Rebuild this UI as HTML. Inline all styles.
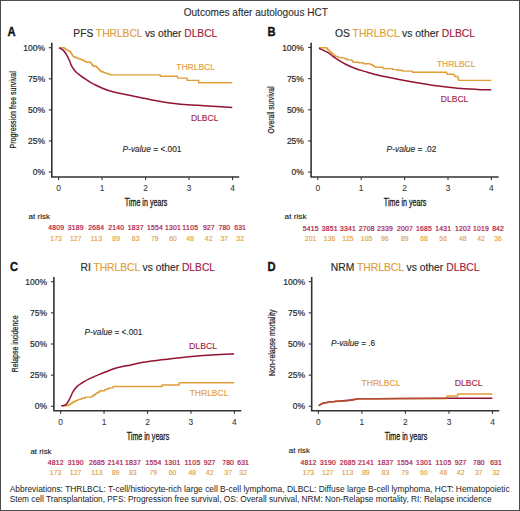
<!DOCTYPE html><html><head><meta charset="utf-8"><style>html,body{margin:0;padding:0;background:#fff;}svg{display:block;}text{font-family:"Liberation Sans", sans-serif;}</style></head><body>
<svg width="520" height="511" viewBox="0 0 520 511">
<rect x="0" y="0" width="520" height="511" fill="#fff"/>
<text x="183.7" y="16.2" font-size="10.1" fill="#2b2b2b" text-anchor="start" font-weight="normal" font-style="normal" textLength="144.2" lengthAdjust="spacingAndGlyphs" stroke="#2b2b2b" stroke-width="0.1">Outcomes after autologous HCT</text>
<path d="M51.8,42.7 L51.8,177 L239.2,177" fill="none" stroke="#333333" stroke-width="1.6"/>
<line x1="48.8" y1="172.00" x2="51.8" y2="172.00" stroke="#333333" stroke-width="1.1"/>
<line x1="48.8" y1="140.93" x2="51.8" y2="140.93" stroke="#333333" stroke-width="1.1"/>
<line x1="48.8" y1="109.85" x2="51.8" y2="109.85" stroke="#333333" stroke-width="1.1"/>
<line x1="48.8" y1="78.78" x2="51.8" y2="78.78" stroke="#333333" stroke-width="1.1"/>
<line x1="48.8" y1="47.70" x2="51.8" y2="47.70" stroke="#333333" stroke-width="1.1"/>
<line x1="58.60" y1="177" x2="58.60" y2="180" stroke="#333333" stroke-width="1.1"/>
<line x1="102.08" y1="177" x2="102.08" y2="180" stroke="#333333" stroke-width="1.1"/>
<line x1="145.55" y1="177" x2="145.55" y2="180" stroke="#333333" stroke-width="1.1"/>
<line x1="189.03" y1="177" x2="189.03" y2="180" stroke="#333333" stroke-width="1.1"/>
<line x1="232.50" y1="177" x2="232.50" y2="180" stroke="#333333" stroke-width="1.1"/>
<text x="7.4" y="36.199999999999996" font-size="13.1" fill="#111" text-anchor="start" font-weight="bold" font-style="normal" textLength="8.1" lengthAdjust="spacingAndGlyphs" stroke="#111" stroke-width="0.35">A</text>
<text x="73.3" y="36.5" font-size="10.2" fill="#2b2b2b" stroke="#2b2b2b" stroke-width="0.15" textLength="144" lengthAdjust="spacingAndGlyphs">PFS <tspan fill="#E09D38" stroke="#E09D38">THRLBCL</tspan> vs other <tspan fill="#A01C42" stroke="#A01C42">DLBCL</tspan></text>
<text x="45.1" y="175.0" font-size="8.5" fill="#2a2a2a" text-anchor="end" font-weight="normal" font-style="normal" stroke="#2a2a2a" stroke-width="0.2">0%</text>
<text x="45.1" y="143.93" font-size="8.5" fill="#2a2a2a" text-anchor="end" font-weight="normal" font-style="normal" stroke="#2a2a2a" stroke-width="0.2">25%</text>
<text x="45.1" y="112.85" font-size="8.5" fill="#2a2a2a" text-anchor="end" font-weight="normal" font-style="normal" stroke="#2a2a2a" stroke-width="0.2">50%</text>
<text x="45.1" y="81.78" font-size="8.5" fill="#2a2a2a" text-anchor="end" font-weight="normal" font-style="normal" stroke="#2a2a2a" stroke-width="0.2">75%</text>
<text x="45.1" y="50.7" font-size="8.5" fill="#2a2a2a" text-anchor="end" font-weight="normal" font-style="normal" stroke="#2a2a2a" stroke-width="0.2">100%</text>
<text x="58.6" y="190.8" font-size="8.4" fill="#333" text-anchor="middle" font-weight="normal" font-style="normal" stroke="#333" stroke-width="0.05">0</text>
<text x="102.08" y="190.8" font-size="8.4" fill="#333" text-anchor="middle" font-weight="normal" font-style="normal" stroke="#333" stroke-width="0.05">1</text>
<text x="145.55" y="190.8" font-size="8.4" fill="#333" text-anchor="middle" font-weight="normal" font-style="normal" stroke="#333" stroke-width="0.05">2</text>
<text x="189.03" y="190.8" font-size="8.4" fill="#333" text-anchor="middle" font-weight="normal" font-style="normal" stroke="#333" stroke-width="0.05">3</text>
<text x="232.5" y="190.8" font-size="8.4" fill="#333" text-anchor="middle" font-weight="normal" font-style="normal" stroke="#333" stroke-width="0.05">4</text>
<text x="124.75" y="206.1" font-size="10.2" fill="#1a1a1a" text-anchor="start" font-weight="normal" font-style="normal" textLength="42.6" lengthAdjust="spacingAndGlyphs" stroke="#1a1a1a" stroke-width="0.3">Time in years</text>
<text transform="translate(15.700000000000001,148.5) rotate(-90)" x="0" y="0" font-size="9.8" fill="#1a1a1a" stroke="#1a1a1a" stroke-width="0.22" textLength="77.3" lengthAdjust="spacingAndGlyphs">Progression free survival</text>
<path d="M311.1,42.7 L311.1,177 L498.6,177" fill="none" stroke="#333333" stroke-width="1.6"/>
<line x1="308.1" y1="172.10" x2="311.1" y2="172.10" stroke="#333333" stroke-width="1.1"/>
<line x1="308.1" y1="140.95" x2="311.1" y2="140.95" stroke="#333333" stroke-width="1.1"/>
<line x1="308.1" y1="109.80" x2="311.1" y2="109.80" stroke="#333333" stroke-width="1.1"/>
<line x1="308.1" y1="78.65" x2="311.1" y2="78.65" stroke="#333333" stroke-width="1.1"/>
<line x1="308.1" y1="47.50" x2="311.1" y2="47.50" stroke="#333333" stroke-width="1.1"/>
<line x1="317.80" y1="177" x2="317.80" y2="180" stroke="#333333" stroke-width="1.1"/>
<line x1="361.20" y1="177" x2="361.20" y2="180" stroke="#333333" stroke-width="1.1"/>
<line x1="404.60" y1="177" x2="404.60" y2="180" stroke="#333333" stroke-width="1.1"/>
<line x1="448.00" y1="177" x2="448.00" y2="180" stroke="#333333" stroke-width="1.1"/>
<line x1="491.40" y1="177" x2="491.40" y2="180" stroke="#333333" stroke-width="1.1"/>
<text x="267.4" y="36.199999999999996" font-size="13.1" fill="#111" text-anchor="start" font-weight="bold" font-style="normal" textLength="8.1" lengthAdjust="spacingAndGlyphs" stroke="#111" stroke-width="0.35">B</text>
<text x="335" y="36.5" font-size="10.2" fill="#2b2b2b" stroke="#2b2b2b" stroke-width="0.15" textLength="140" lengthAdjust="spacingAndGlyphs">OS <tspan fill="#E09D38" stroke="#E09D38">THRLBCL</tspan> vs other <tspan fill="#A01C42" stroke="#A01C42">DLBCL</tspan></text>
<text x="303.9" y="175.1" font-size="8.5" fill="#2a2a2a" text-anchor="end" font-weight="normal" font-style="normal" stroke="#2a2a2a" stroke-width="0.2">0%</text>
<text x="303.9" y="143.95" font-size="8.5" fill="#2a2a2a" text-anchor="end" font-weight="normal" font-style="normal" stroke="#2a2a2a" stroke-width="0.2">25%</text>
<text x="303.9" y="112.8" font-size="8.5" fill="#2a2a2a" text-anchor="end" font-weight="normal" font-style="normal" stroke="#2a2a2a" stroke-width="0.2">50%</text>
<text x="303.9" y="81.65" font-size="8.5" fill="#2a2a2a" text-anchor="end" font-weight="normal" font-style="normal" stroke="#2a2a2a" stroke-width="0.2">75%</text>
<text x="303.9" y="50.5" font-size="8.5" fill="#2a2a2a" text-anchor="end" font-weight="normal" font-style="normal" stroke="#2a2a2a" stroke-width="0.2">100%</text>
<text x="317.8" y="190.8" font-size="8.4" fill="#333" text-anchor="middle" font-weight="normal" font-style="normal" stroke="#333" stroke-width="0.05">0</text>
<text x="361.2" y="190.8" font-size="8.4" fill="#333" text-anchor="middle" font-weight="normal" font-style="normal" stroke="#333" stroke-width="0.05">1</text>
<text x="404.6" y="190.8" font-size="8.4" fill="#333" text-anchor="middle" font-weight="normal" font-style="normal" stroke="#333" stroke-width="0.05">2</text>
<text x="448.0" y="190.8" font-size="8.4" fill="#333" text-anchor="middle" font-weight="normal" font-style="normal" stroke="#333" stroke-width="0.05">3</text>
<text x="491.4" y="190.8" font-size="8.4" fill="#333" text-anchor="middle" font-weight="normal" font-style="normal" stroke="#333" stroke-width="0.05">4</text>
<text x="383.8" y="206.1" font-size="10.2" fill="#1a1a1a" text-anchor="start" font-weight="normal" font-style="normal" textLength="42.6" lengthAdjust="spacingAndGlyphs" stroke="#1a1a1a" stroke-width="0.3">Time in years</text>
<text transform="translate(274.29999999999995,133.4) rotate(-90)" x="0" y="0" font-size="9.8" fill="#1a1a1a" stroke="#1a1a1a" stroke-width="0.22" textLength="47.0" lengthAdjust="spacingAndGlyphs">Overall survival</text>
<path d="M53.9,277 L53.9,410.8 L241.3,410.8" fill="none" stroke="#333333" stroke-width="1.6"/>
<line x1="50.9" y1="406.30" x2="53.9" y2="406.30" stroke="#333333" stroke-width="1.1"/>
<line x1="50.9" y1="375.15" x2="53.9" y2="375.15" stroke="#333333" stroke-width="1.1"/>
<line x1="50.9" y1="344.00" x2="53.9" y2="344.00" stroke="#333333" stroke-width="1.1"/>
<line x1="50.9" y1="312.85" x2="53.9" y2="312.85" stroke="#333333" stroke-width="1.1"/>
<line x1="50.9" y1="281.70" x2="53.9" y2="281.70" stroke="#333333" stroke-width="1.1"/>
<line x1="60.60" y1="410.8" x2="60.60" y2="413.8" stroke="#333333" stroke-width="1.1"/>
<line x1="104.05" y1="410.8" x2="104.05" y2="413.8" stroke="#333333" stroke-width="1.1"/>
<line x1="147.50" y1="410.8" x2="147.50" y2="413.8" stroke="#333333" stroke-width="1.1"/>
<line x1="190.95" y1="410.8" x2="190.95" y2="413.8" stroke="#333333" stroke-width="1.1"/>
<line x1="234.40" y1="410.8" x2="234.40" y2="413.8" stroke="#333333" stroke-width="1.1"/>
<text x="10.1" y="270.9" font-size="13.1" fill="#111" text-anchor="start" font-weight="bold" font-style="normal" textLength="8.1" lengthAdjust="spacingAndGlyphs" stroke="#111" stroke-width="0.35">C</text>
<text x="80.5" y="270.5" font-size="10.2" fill="#2b2b2b" stroke="#2b2b2b" stroke-width="0.15" textLength="134.5" lengthAdjust="spacingAndGlyphs">RI <tspan fill="#E09D38" stroke="#E09D38">THRLBCL</tspan> vs other <tspan fill="#A01C42" stroke="#A01C42">DLBCL</tspan></text>
<text x="47.1" y="409.3" font-size="8.5" fill="#2a2a2a" text-anchor="end" font-weight="normal" font-style="normal" stroke="#2a2a2a" stroke-width="0.2">0%</text>
<text x="47.1" y="378.15" font-size="8.5" fill="#2a2a2a" text-anchor="end" font-weight="normal" font-style="normal" stroke="#2a2a2a" stroke-width="0.2">25%</text>
<text x="47.1" y="347.0" font-size="8.5" fill="#2a2a2a" text-anchor="end" font-weight="normal" font-style="normal" stroke="#2a2a2a" stroke-width="0.2">50%</text>
<text x="47.1" y="315.85" font-size="8.5" fill="#2a2a2a" text-anchor="end" font-weight="normal" font-style="normal" stroke="#2a2a2a" stroke-width="0.2">75%</text>
<text x="47.1" y="284.7" font-size="8.5" fill="#2a2a2a" text-anchor="end" font-weight="normal" font-style="normal" stroke="#2a2a2a" stroke-width="0.2">100%</text>
<text x="60.6" y="424.6" font-size="8.4" fill="#333" text-anchor="middle" font-weight="normal" font-style="normal" stroke="#333" stroke-width="0.05">0</text>
<text x="104.05" y="424.6" font-size="8.4" fill="#333" text-anchor="middle" font-weight="normal" font-style="normal" stroke="#333" stroke-width="0.05">1</text>
<text x="147.5" y="424.6" font-size="8.4" fill="#333" text-anchor="middle" font-weight="normal" font-style="normal" stroke="#333" stroke-width="0.05">2</text>
<text x="190.95" y="424.6" font-size="8.4" fill="#333" text-anchor="middle" font-weight="normal" font-style="normal" stroke="#333" stroke-width="0.05">3</text>
<text x="234.4" y="424.6" font-size="8.4" fill="#333" text-anchor="middle" font-weight="normal" font-style="normal" stroke="#333" stroke-width="0.05">4</text>
<text x="126.7" y="439.90000000000003" font-size="10.2" fill="#1a1a1a" text-anchor="start" font-weight="normal" font-style="normal" textLength="42.6" lengthAdjust="spacingAndGlyphs" stroke="#1a1a1a" stroke-width="0.3">Time in years</text>
<text transform="translate(17.599999999999998,372.2) rotate(-90)" x="0" y="0" font-size="9.8" fill="#1a1a1a" stroke="#1a1a1a" stroke-width="0.22" textLength="56.8" lengthAdjust="spacingAndGlyphs">Relapse incidence</text>
<path d="M311.7,277 L311.7,410.8 L499.2,410.8" fill="none" stroke="#333333" stroke-width="1.6"/>
<line x1="308.7" y1="406.30" x2="311.7" y2="406.30" stroke="#333333" stroke-width="1.1"/>
<line x1="308.7" y1="375.15" x2="311.7" y2="375.15" stroke="#333333" stroke-width="1.1"/>
<line x1="308.7" y1="344.00" x2="311.7" y2="344.00" stroke="#333333" stroke-width="1.1"/>
<line x1="308.7" y1="312.85" x2="311.7" y2="312.85" stroke="#333333" stroke-width="1.1"/>
<line x1="308.7" y1="281.70" x2="311.7" y2="281.70" stroke="#333333" stroke-width="1.1"/>
<line x1="318.40" y1="410.8" x2="318.40" y2="413.8" stroke="#333333" stroke-width="1.1"/>
<line x1="361.92" y1="410.8" x2="361.92" y2="413.8" stroke="#333333" stroke-width="1.1"/>
<line x1="405.45" y1="410.8" x2="405.45" y2="413.8" stroke="#333333" stroke-width="1.1"/>
<line x1="448.98" y1="410.8" x2="448.98" y2="413.8" stroke="#333333" stroke-width="1.1"/>
<line x1="492.50" y1="410.8" x2="492.50" y2="413.8" stroke="#333333" stroke-width="1.1"/>
<text x="267.4" y="270.9" font-size="13.1" fill="#111" text-anchor="start" font-weight="bold" font-style="normal" textLength="8.1" lengthAdjust="spacingAndGlyphs" stroke="#111" stroke-width="0.35">D</text>
<text x="330.75" y="270.5" font-size="10.2" fill="#2b2b2b" stroke="#2b2b2b" stroke-width="0.15" textLength="148.75" lengthAdjust="spacingAndGlyphs">NRM <tspan fill="#E09D38" stroke="#E09D38">THRLBCL</tspan> vs other <tspan fill="#A01C42" stroke="#A01C42">DLBCL</tspan></text>
<text x="305.1" y="409.3" font-size="8.5" fill="#2a2a2a" text-anchor="end" font-weight="normal" font-style="normal" stroke="#2a2a2a" stroke-width="0.2">0%</text>
<text x="305.1" y="378.15" font-size="8.5" fill="#2a2a2a" text-anchor="end" font-weight="normal" font-style="normal" stroke="#2a2a2a" stroke-width="0.2">25%</text>
<text x="305.1" y="347.0" font-size="8.5" fill="#2a2a2a" text-anchor="end" font-weight="normal" font-style="normal" stroke="#2a2a2a" stroke-width="0.2">50%</text>
<text x="305.1" y="315.85" font-size="8.5" fill="#2a2a2a" text-anchor="end" font-weight="normal" font-style="normal" stroke="#2a2a2a" stroke-width="0.2">75%</text>
<text x="305.1" y="284.7" font-size="8.5" fill="#2a2a2a" text-anchor="end" font-weight="normal" font-style="normal" stroke="#2a2a2a" stroke-width="0.2">100%</text>
<text x="318.4" y="424.6" font-size="8.4" fill="#333" text-anchor="middle" font-weight="normal" font-style="normal" stroke="#333" stroke-width="0.05">0</text>
<text x="361.92" y="424.6" font-size="8.4" fill="#333" text-anchor="middle" font-weight="normal" font-style="normal" stroke="#333" stroke-width="0.05">1</text>
<text x="405.45" y="424.6" font-size="8.4" fill="#333" text-anchor="middle" font-weight="normal" font-style="normal" stroke="#333" stroke-width="0.05">2</text>
<text x="448.98" y="424.6" font-size="8.4" fill="#333" text-anchor="middle" font-weight="normal" font-style="normal" stroke="#333" stroke-width="0.05">3</text>
<text x="492.5" y="424.6" font-size="8.4" fill="#333" text-anchor="middle" font-weight="normal" font-style="normal" stroke="#333" stroke-width="0.05">4</text>
<text x="384.65" y="439.90000000000003" font-size="10.2" fill="#1a1a1a" text-anchor="start" font-weight="normal" font-style="normal" textLength="42.6" lengthAdjust="spacingAndGlyphs" stroke="#1a1a1a" stroke-width="0.3">Time in years</text>
<text transform="translate(274.9,376.1) rotate(-90)" x="0" y="0" font-size="9.8" fill="#1a1a1a" stroke="#1a1a1a" stroke-width="0.22" textLength="66.5" lengthAdjust="spacingAndGlyphs">Non-relapse mortality</text>
<text x="28.5" y="218.7" font-size="7.6" fill="#222" text-anchor="start" font-weight="normal" font-style="normal" textLength="21.5" lengthAdjust="spacingAndGlyphs" stroke="#222" stroke-width="0.12">at risk</text>
<text x="48.2" y="230.3" font-size="6.8" fill="#B0234C" text-anchor="start" font-weight="normal" font-style="normal" textLength="15.8" lengthAdjust="spacing" stroke="#B0234C" stroke-width="0.22">4809</text>
<text x="50.35" y="241.3" font-size="6.8" fill="#E3A245" text-anchor="start" font-weight="normal" font-style="normal" textLength="11.5" lengthAdjust="spacing" stroke="#E3A245" stroke-width="0.15">173</text>
<text x="67.8" y="230.3" font-size="6.8" fill="#B0234C" text-anchor="start" font-weight="normal" font-style="normal" textLength="15.8" lengthAdjust="spacing" stroke="#B0234C" stroke-width="0.22">3189</text>
<text x="69.95" y="241.3" font-size="6.8" fill="#E3A245" text-anchor="start" font-weight="normal" font-style="normal" textLength="11.5" lengthAdjust="spacing" stroke="#E3A245" stroke-width="0.15">127</text>
<text x="88.3" y="230.3" font-size="6.8" fill="#B0234C" text-anchor="start" font-weight="normal" font-style="normal" textLength="15.8" lengthAdjust="spacing" stroke="#B0234C" stroke-width="0.22">2684</text>
<text x="90.45" y="241.3" font-size="6.8" fill="#E3A245" text-anchor="start" font-weight="normal" font-style="normal" textLength="11.5" lengthAdjust="spacing" stroke="#E3A245" stroke-width="0.15">113</text>
<text x="108.3" y="230.3" font-size="6.8" fill="#B0234C" text-anchor="start" font-weight="normal" font-style="normal" textLength="15.8" lengthAdjust="spacing" stroke="#B0234C" stroke-width="0.22">2140</text>
<text x="112.35" y="241.3" font-size="6.8" fill="#E3A245" text-anchor="start" font-weight="normal" font-style="normal" textLength="7.7" lengthAdjust="spacing" stroke="#E3A245" stroke-width="0.15">89</text>
<text x="127.7" y="230.3" font-size="6.8" fill="#B0234C" text-anchor="start" font-weight="normal" font-style="normal" textLength="15.8" lengthAdjust="spacing" stroke="#B0234C" stroke-width="0.22">1837</text>
<text x="131.75" y="241.3" font-size="6.8" fill="#E3A245" text-anchor="start" font-weight="normal" font-style="normal" textLength="7.7" lengthAdjust="spacing" stroke="#E3A245" stroke-width="0.15">83</text>
<text x="146.9" y="230.3" font-size="6.8" fill="#B0234C" text-anchor="start" font-weight="normal" font-style="normal" textLength="15.8" lengthAdjust="spacing" stroke="#B0234C" stroke-width="0.22">1554</text>
<text x="150.95" y="241.3" font-size="6.8" fill="#E3A245" text-anchor="start" font-weight="normal" font-style="normal" textLength="7.7" lengthAdjust="spacing" stroke="#E3A245" stroke-width="0.15">79</text>
<text x="165.1" y="230.3" font-size="6.8" fill="#B0234C" text-anchor="start" font-weight="normal" font-style="normal" textLength="15.8" lengthAdjust="spacing" stroke="#B0234C" stroke-width="0.22">1301</text>
<text x="169.15" y="241.3" font-size="6.8" fill="#E3A245" text-anchor="start" font-weight="normal" font-style="normal" textLength="7.7" lengthAdjust="spacing" stroke="#E3A245" stroke-width="0.15">60</text>
<text x="182.3" y="230.3" font-size="6.8" fill="#B0234C" text-anchor="start" font-weight="normal" font-style="normal" textLength="15.8" lengthAdjust="spacing" stroke="#B0234C" stroke-width="0.22">1105</text>
<text x="186.35" y="241.3" font-size="6.8" fill="#E3A245" text-anchor="start" font-weight="normal" font-style="normal" textLength="7.7" lengthAdjust="spacing" stroke="#E3A245" stroke-width="0.15">48</text>
<text x="202.95" y="230.3" font-size="6.8" fill="#B0234C" text-anchor="start" font-weight="normal" font-style="normal" textLength="11.5" lengthAdjust="spacing" stroke="#B0234C" stroke-width="0.22">927</text>
<text x="204.85" y="241.3" font-size="6.8" fill="#E3A245" text-anchor="start" font-weight="normal" font-style="normal" textLength="7.7" lengthAdjust="spacing" stroke="#E3A245" stroke-width="0.15">42</text>
<text x="218.55" y="230.3" font-size="6.8" fill="#B0234C" text-anchor="start" font-weight="normal" font-style="normal" textLength="11.5" lengthAdjust="spacing" stroke="#B0234C" stroke-width="0.22">780</text>
<text x="220.45" y="241.3" font-size="6.8" fill="#E3A245" text-anchor="start" font-weight="normal" font-style="normal" textLength="7.7" lengthAdjust="spacing" stroke="#E3A245" stroke-width="0.15">37</text>
<text x="234.35" y="230.3" font-size="6.8" fill="#B0234C" text-anchor="start" font-weight="normal" font-style="normal" textLength="11.5" lengthAdjust="spacing" stroke="#B0234C" stroke-width="0.22">631</text>
<text x="236.25" y="241.3" font-size="6.8" fill="#E3A245" text-anchor="start" font-weight="normal" font-style="normal" textLength="7.7" lengthAdjust="spacing" stroke="#E3A245" stroke-width="0.15">32</text>
<text x="284.6" y="218.7" font-size="7.6" fill="#222" text-anchor="start" font-weight="normal" font-style="normal" textLength="22" lengthAdjust="spacingAndGlyphs" stroke="#222" stroke-width="0.12">at risk</text>
<text x="302.7" y="230.5" font-size="6.8" fill="#B0234C" text-anchor="start" font-weight="normal" font-style="normal" textLength="15.8" lengthAdjust="spacing" stroke="#B0234C" stroke-width="0.22">5415</text>
<text x="304.85" y="241.3" font-size="6.8" fill="#E3A245" text-anchor="start" font-weight="normal" font-style="normal" textLength="11.5" lengthAdjust="spacing" stroke="#E3A245" stroke-width="0.15">201</text>
<text x="321.7" y="230.5" font-size="6.8" fill="#B0234C" text-anchor="start" font-weight="normal" font-style="normal" textLength="15.8" lengthAdjust="spacing" stroke="#B0234C" stroke-width="0.22">3851</text>
<text x="323.85" y="241.3" font-size="6.8" fill="#E3A245" text-anchor="start" font-weight="normal" font-style="normal" textLength="11.5" lengthAdjust="spacing" stroke="#E3A245" stroke-width="0.15">136</text>
<text x="340.0" y="230.5" font-size="6.8" fill="#B0234C" text-anchor="start" font-weight="normal" font-style="normal" textLength="15.8" lengthAdjust="spacing" stroke="#B0234C" stroke-width="0.22">3341</text>
<text x="342.15" y="241.3" font-size="6.8" fill="#E3A245" text-anchor="start" font-weight="normal" font-style="normal" textLength="11.5" lengthAdjust="spacing" stroke="#E3A245" stroke-width="0.15">125</text>
<text x="358.7" y="230.5" font-size="6.8" fill="#B0234C" text-anchor="start" font-weight="normal" font-style="normal" textLength="15.8" lengthAdjust="spacing" stroke="#B0234C" stroke-width="0.22">2708</text>
<text x="360.85" y="241.3" font-size="6.8" fill="#E3A245" text-anchor="start" font-weight="normal" font-style="normal" textLength="11.5" lengthAdjust="spacing" stroke="#E3A245" stroke-width="0.15">105</text>
<text x="376.9" y="230.5" font-size="6.8" fill="#B0234C" text-anchor="start" font-weight="normal" font-style="normal" textLength="15.8" lengthAdjust="spacing" stroke="#B0234C" stroke-width="0.22">2339</text>
<text x="380.95" y="241.3" font-size="6.8" fill="#E3A245" text-anchor="start" font-weight="normal" font-style="normal" textLength="7.7" lengthAdjust="spacing" stroke="#E3A245" stroke-width="0.15">96</text>
<text x="396.9" y="230.5" font-size="6.8" fill="#B0234C" text-anchor="start" font-weight="normal" font-style="normal" textLength="15.8" lengthAdjust="spacing" stroke="#B0234C" stroke-width="0.22">2007</text>
<text x="400.95" y="241.3" font-size="6.8" fill="#E3A245" text-anchor="start" font-weight="normal" font-style="normal" textLength="7.7" lengthAdjust="spacing" stroke="#E3A245" stroke-width="0.15">89</text>
<text x="416.1" y="230.5" font-size="6.8" fill="#B0234C" text-anchor="start" font-weight="normal" font-style="normal" textLength="15.8" lengthAdjust="spacing" stroke="#B0234C" stroke-width="0.22">1685</text>
<text x="420.15" y="241.3" font-size="6.8" fill="#E3A245" text-anchor="start" font-weight="normal" font-style="normal" textLength="7.7" lengthAdjust="spacing" stroke="#E3A245" stroke-width="0.15">68</text>
<text x="435.2" y="230.5" font-size="6.8" fill="#B0234C" text-anchor="start" font-weight="normal" font-style="normal" textLength="15.8" lengthAdjust="spacing" stroke="#B0234C" stroke-width="0.22">1431</text>
<text x="439.25" y="241.3" font-size="6.8" fill="#E3A245" text-anchor="start" font-weight="normal" font-style="normal" textLength="7.7" lengthAdjust="spacing" stroke="#E3A245" stroke-width="0.15">56</text>
<text x="454.9" y="230.5" font-size="6.8" fill="#B0234C" text-anchor="start" font-weight="normal" font-style="normal" textLength="15.8" lengthAdjust="spacing" stroke="#B0234C" stroke-width="0.22">1202</text>
<text x="458.95" y="241.3" font-size="6.8" fill="#E3A245" text-anchor="start" font-weight="normal" font-style="normal" textLength="7.7" lengthAdjust="spacing" stroke="#E3A245" stroke-width="0.15">48</text>
<text x="473.1" y="230.5" font-size="6.8" fill="#B0234C" text-anchor="start" font-weight="normal" font-style="normal" textLength="15.8" lengthAdjust="spacing" stroke="#B0234C" stroke-width="0.22">1019</text>
<text x="477.15" y="241.3" font-size="6.8" fill="#E3A245" text-anchor="start" font-weight="normal" font-style="normal" textLength="7.7" lengthAdjust="spacing" stroke="#E3A245" stroke-width="0.15">42</text>
<text x="492.25" y="230.5" font-size="6.8" fill="#B0234C" text-anchor="start" font-weight="normal" font-style="normal" textLength="11.5" lengthAdjust="spacing" stroke="#B0234C" stroke-width="0.22">842</text>
<text x="494.15" y="241.3" font-size="6.8" fill="#E3A245" text-anchor="start" font-weight="normal" font-style="normal" textLength="7.7" lengthAdjust="spacing" stroke="#E3A245" stroke-width="0.15">36</text>
<text x="30.4" y="453.6" font-size="7.6" fill="#222" text-anchor="start" font-weight="normal" font-style="normal" textLength="21.2" lengthAdjust="spacingAndGlyphs" stroke="#222" stroke-width="0.12">at risk</text>
<text x="47.7" y="465.0" font-size="6.8" fill="#B0234C" text-anchor="start" font-weight="normal" font-style="normal" textLength="15.8" lengthAdjust="spacing" stroke="#B0234C" stroke-width="0.22">4812</text>
<text x="49.85" y="475.2" font-size="6.8" fill="#E3A245" text-anchor="start" font-weight="normal" font-style="normal" textLength="11.5" lengthAdjust="spacing" stroke="#E3A245" stroke-width="0.15">173</text>
<text x="67.7" y="465.0" font-size="6.8" fill="#B0234C" text-anchor="start" font-weight="normal" font-style="normal" textLength="15.8" lengthAdjust="spacing" stroke="#B0234C" stroke-width="0.22">3190</text>
<text x="69.85" y="475.2" font-size="6.8" fill="#E3A245" text-anchor="start" font-weight="normal" font-style="normal" textLength="11.5" lengthAdjust="spacing" stroke="#E3A245" stroke-width="0.15">127</text>
<text x="89.0" y="465.0" font-size="6.8" fill="#B0234C" text-anchor="start" font-weight="normal" font-style="normal" textLength="15.8" lengthAdjust="spacing" stroke="#B0234C" stroke-width="0.22">2685</text>
<text x="91.15" y="475.2" font-size="6.8" fill="#E3A245" text-anchor="start" font-weight="normal" font-style="normal" textLength="11.5" lengthAdjust="spacing" stroke="#E3A245" stroke-width="0.15">113</text>
<text x="107.6" y="465.0" font-size="6.8" fill="#B0234C" text-anchor="start" font-weight="normal" font-style="normal" textLength="15.8" lengthAdjust="spacing" stroke="#B0234C" stroke-width="0.22">2141</text>
<text x="111.65" y="475.2" font-size="6.8" fill="#E3A245" text-anchor="start" font-weight="normal" font-style="normal" textLength="7.7" lengthAdjust="spacing" stroke="#E3A245" stroke-width="0.15">89</text>
<text x="124.9" y="465.0" font-size="6.8" fill="#B0234C" text-anchor="start" font-weight="normal" font-style="normal" textLength="15.8" lengthAdjust="spacing" stroke="#B0234C" stroke-width="0.22">1837</text>
<text x="128.95" y="475.2" font-size="6.8" fill="#E3A245" text-anchor="start" font-weight="normal" font-style="normal" textLength="7.7" lengthAdjust="spacing" stroke="#E3A245" stroke-width="0.15">83</text>
<text x="145.4" y="465.0" font-size="6.8" fill="#B0234C" text-anchor="start" font-weight="normal" font-style="normal" textLength="15.8" lengthAdjust="spacing" stroke="#B0234C" stroke-width="0.22">1554</text>
<text x="149.45" y="475.2" font-size="6.8" fill="#E3A245" text-anchor="start" font-weight="normal" font-style="normal" textLength="7.7" lengthAdjust="spacing" stroke="#E3A245" stroke-width="0.15">79</text>
<text x="164.6" y="465.0" font-size="6.8" fill="#B0234C" text-anchor="start" font-weight="normal" font-style="normal" textLength="15.8" lengthAdjust="spacing" stroke="#B0234C" stroke-width="0.22">1301</text>
<text x="168.65" y="475.2" font-size="6.8" fill="#E3A245" text-anchor="start" font-weight="normal" font-style="normal" textLength="7.7" lengthAdjust="spacing" stroke="#E3A245" stroke-width="0.15">60</text>
<text x="184.4" y="465.0" font-size="6.8" fill="#B0234C" text-anchor="start" font-weight="normal" font-style="normal" textLength="15.8" lengthAdjust="spacing" stroke="#B0234C" stroke-width="0.22">1105</text>
<text x="188.45" y="475.2" font-size="6.8" fill="#E3A245" text-anchor="start" font-weight="normal" font-style="normal" textLength="7.7" lengthAdjust="spacing" stroke="#E3A245" stroke-width="0.15">48</text>
<text x="203.85" y="465.0" font-size="6.8" fill="#B0234C" text-anchor="start" font-weight="normal" font-style="normal" textLength="11.5" lengthAdjust="spacing" stroke="#B0234C" stroke-width="0.22">927</text>
<text x="205.75" y="475.2" font-size="6.8" fill="#E3A245" text-anchor="start" font-weight="normal" font-style="normal" textLength="7.7" lengthAdjust="spacing" stroke="#E3A245" stroke-width="0.15">42</text>
<text x="222.35" y="465.0" font-size="6.8" fill="#B0234C" text-anchor="start" font-weight="normal" font-style="normal" textLength="11.5" lengthAdjust="spacing" stroke="#B0234C" stroke-width="0.22">780</text>
<text x="224.25" y="475.2" font-size="6.8" fill="#E3A245" text-anchor="start" font-weight="normal" font-style="normal" textLength="7.7" lengthAdjust="spacing" stroke="#E3A245" stroke-width="0.15">37</text>
<text x="237.35" y="465.0" font-size="6.8" fill="#B0234C" text-anchor="start" font-weight="normal" font-style="normal" textLength="11.5" lengthAdjust="spacing" stroke="#B0234C" stroke-width="0.22">631</text>
<text x="239.25" y="475.2" font-size="6.8" fill="#E3A245" text-anchor="start" font-weight="normal" font-style="normal" textLength="7.7" lengthAdjust="spacing" stroke="#E3A245" stroke-width="0.15">32</text>
<text x="288.8" y="453.3" font-size="7.6" fill="#222" text-anchor="start" font-weight="normal" font-style="normal" textLength="21.2" lengthAdjust="spacingAndGlyphs" stroke="#222" stroke-width="0.12">at risk</text>
<text x="300.5" y="465.0" font-size="6.8" fill="#B0234C" text-anchor="start" font-weight="normal" font-style="normal" textLength="15.8" lengthAdjust="spacing" stroke="#B0234C" stroke-width="0.22">4812</text>
<text x="302.65" y="475.2" font-size="6.8" fill="#E3A245" text-anchor="start" font-weight="normal" font-style="normal" textLength="11.5" lengthAdjust="spacing" stroke="#E3A245" stroke-width="0.15">173</text>
<text x="319.9" y="465.0" font-size="6.8" fill="#B0234C" text-anchor="start" font-weight="normal" font-style="normal" textLength="15.8" lengthAdjust="spacing" stroke="#B0234C" stroke-width="0.22">3190</text>
<text x="322.05" y="475.2" font-size="6.8" fill="#E3A245" text-anchor="start" font-weight="normal" font-style="normal" textLength="11.5" lengthAdjust="spacing" stroke="#E3A245" stroke-width="0.15">127</text>
<text x="339.7" y="465.0" font-size="6.8" fill="#B0234C" text-anchor="start" font-weight="normal" font-style="normal" textLength="15.8" lengthAdjust="spacing" stroke="#B0234C" stroke-width="0.22">2685</text>
<text x="341.85" y="475.2" font-size="6.8" fill="#E3A245" text-anchor="start" font-weight="normal" font-style="normal" textLength="11.5" lengthAdjust="spacing" stroke="#E3A245" stroke-width="0.15">113</text>
<text x="357.9" y="465.0" font-size="6.8" fill="#B0234C" text-anchor="start" font-weight="normal" font-style="normal" textLength="15.8" lengthAdjust="spacing" stroke="#B0234C" stroke-width="0.22">2141</text>
<text x="361.95" y="475.2" font-size="6.8" fill="#E3A245" text-anchor="start" font-weight="normal" font-style="normal" textLength="7.7" lengthAdjust="spacing" stroke="#E3A245" stroke-width="0.15">89</text>
<text x="377.5" y="465.0" font-size="6.8" fill="#B0234C" text-anchor="start" font-weight="normal" font-style="normal" textLength="15.8" lengthAdjust="spacing" stroke="#B0234C" stroke-width="0.22">1837</text>
<text x="381.55" y="475.2" font-size="6.8" fill="#E3A245" text-anchor="start" font-weight="normal" font-style="normal" textLength="7.7" lengthAdjust="spacing" stroke="#E3A245" stroke-width="0.15">83</text>
<text x="397.1" y="465.0" font-size="6.8" fill="#B0234C" text-anchor="start" font-weight="normal" font-style="normal" textLength="15.8" lengthAdjust="spacing" stroke="#B0234C" stroke-width="0.22">1554</text>
<text x="401.15" y="475.2" font-size="6.8" fill="#E3A245" text-anchor="start" font-weight="normal" font-style="normal" textLength="7.7" lengthAdjust="spacing" stroke="#E3A245" stroke-width="0.15">79</text>
<text x="416.1" y="465.0" font-size="6.8" fill="#B0234C" text-anchor="start" font-weight="normal" font-style="normal" textLength="15.8" lengthAdjust="spacing" stroke="#B0234C" stroke-width="0.22">1301</text>
<text x="420.15" y="475.2" font-size="6.8" fill="#E3A245" text-anchor="start" font-weight="normal" font-style="normal" textLength="7.7" lengthAdjust="spacing" stroke="#E3A245" stroke-width="0.15">60</text>
<text x="435.5" y="465.0" font-size="6.8" fill="#B0234C" text-anchor="start" font-weight="normal" font-style="normal" textLength="15.8" lengthAdjust="spacing" stroke="#B0234C" stroke-width="0.22">1105</text>
<text x="439.55" y="475.2" font-size="6.8" fill="#E3A245" text-anchor="start" font-weight="normal" font-style="normal" textLength="7.7" lengthAdjust="spacing" stroke="#E3A245" stroke-width="0.15">48</text>
<text x="454.85" y="465.0" font-size="6.8" fill="#B0234C" text-anchor="start" font-weight="normal" font-style="normal" textLength="11.5" lengthAdjust="spacing" stroke="#B0234C" stroke-width="0.22">927</text>
<text x="456.75" y="475.2" font-size="6.8" fill="#E3A245" text-anchor="start" font-weight="normal" font-style="normal" textLength="7.7" lengthAdjust="spacing" stroke="#E3A245" stroke-width="0.15">42</text>
<text x="473.05" y="465.0" font-size="6.8" fill="#B0234C" text-anchor="start" font-weight="normal" font-style="normal" textLength="11.5" lengthAdjust="spacing" stroke="#B0234C" stroke-width="0.22">780</text>
<text x="474.95" y="475.2" font-size="6.8" fill="#E3A245" text-anchor="start" font-weight="normal" font-style="normal" textLength="7.7" lengthAdjust="spacing" stroke="#E3A245" stroke-width="0.15">37</text>
<text x="490.25" y="465.0" font-size="6.8" fill="#B0234C" text-anchor="start" font-weight="normal" font-style="normal" textLength="11.5" lengthAdjust="spacing" stroke="#B0234C" stroke-width="0.22">631</text>
<text x="492.15" y="475.2" font-size="6.8" fill="#E3A245" text-anchor="start" font-weight="normal" font-style="normal" textLength="7.7" lengthAdjust="spacing" stroke="#E3A245" stroke-width="0.15">32</text>
<path d="M59.0,47.8 L64.2,47.8 L64.2,48.3 L65.3,48.3 L65.3,49.2 L66.5,49.2 L66.5,50.1 L68.2,50.1 L68.2,51.0 L70.0,51.0 L70.0,51.8 L70.7,51.8 L70.7,52.8 L71.4,52.8 L71.4,53.9 L72.1,53.9 L72.1,54.9 L72.8,54.9 L72.8,56.0 L73.5,56.0 L73.5,57.0 L75.8,57.0 L75.8,57.9 L78.1,57.9 L78.1,58.7 L80.4,58.7 L80.4,59.6 L82.7,59.6 L82.7,60.5 L84.4,60.5 L84.4,61.4 L86.1,61.4 L86.1,62.2 L90.8,62.2 L90.8,63.3 L91.6,63.3 L91.6,64.3 L92.3,64.3 L92.3,65.2 L93.1,65.2 L93.1,66.2 L96.5,66.2 L96.5,67.4 L97.7,67.4 L97.7,68.6 L98.8,68.6 L98.8,69.7 L99.9,69.7 L99.9,70.8 L101.1,70.8 L101.1,71.8 L103.4,71.8 L103.4,72.6 L105.7,72.6 L105.7,73.4 L108.1,73.4 L108.1,74.2 L110.4,74.2 L110.4,74.9 L160.2,74.9 L160.2,76.2 L177.5,76.2 L177.5,78.1 L187.1,78.1 L187.1,80.4 L198.7,80.4 L198.7,82.7 L232.3,82.7" fill="none" stroke="#E09D38" stroke-width="1.4" stroke-linejoin="round" stroke-linecap="butt"/>
<path d="M59.00,47.80 C59.68,48.18 61.85,48.95 63.10,50.10 C64.35,51.25 65.45,52.97 66.50,54.70 C67.55,56.43 68.53,58.58 69.40,60.50 C70.27,62.42 70.73,64.42 71.70,66.20 C72.67,67.98 73.75,69.63 75.20,71.20 C76.65,72.77 78.60,74.23 80.40,75.60 C82.20,76.97 83.70,77.93 86.00,79.40 C88.30,80.87 90.58,82.60 94.20,84.40 C97.82,86.20 102.25,88.47 107.70,90.20 C113.15,91.93 121.52,93.60 126.90,94.80 C132.28,96.00 134.62,96.33 140.00,97.40 C145.38,98.47 152.78,100.10 159.20,101.20 C165.62,102.30 172.08,103.32 178.50,104.00 C184.92,104.68 191.30,104.88 197.70,105.30 C204.10,105.72 211.13,106.13 216.90,106.50 C222.67,106.87 229.73,107.33 232.30,107.50" fill="none" stroke="#931332" stroke-width="1.5" stroke-linejoin="round" stroke-linecap="butt"/>
<path d="M319.0,47.8 L326.5,47.8 L326.5,48.3 L327.4,48.3 L327.4,49.2 L328.2,49.2 L328.2,50.0 L329.1,50.0 L329.1,50.9 L330.0,50.9 L330.0,51.8 L331.0,51.8 L331.0,52.7 L332.1,52.7 L332.1,53.6 L333.1,53.6 L333.1,54.6 L334.2,54.6 L334.2,55.5 L335.2,55.5 L335.2,56.4 L338.1,56.4 L338.1,57.6 L342.7,57.6 L342.7,58.1 L345.0,58.1 L345.0,59.0 L347.3,59.0 L347.3,59.9 L351.9,59.9 L351.9,60.5 L352.5,60.5 L352.5,61.4 L353.1,61.4 L353.1,62.2 L358.8,62.2 L358.8,62.8 L363.4,62.8 L363.4,63.7 L369.2,63.7 L369.2,63.9 L370.9,63.9 L370.9,64.8 L372.7,64.8 L372.7,65.6 L373.9,65.6 L373.9,66.4 L375.0,66.4 L375.0,67.2 L383.1,67.2 L383.1,68.6 L392.7,68.6 L392.7,69.6 L397.5,69.6 L397.5,70.3 L402.3,70.3 L402.3,71.1 L411.5,71.1 L412.5,71.1 L412.5,72.3 L446.2,72.3 L446.6,72.3 L446.6,73.2 L447.1,73.2 L447.1,74.2 L453.8,74.2 L453.8,74.6 L454.3,74.6 L454.3,75.5 L454.8,75.5 L454.8,76.5 L457.7,76.5 L457.7,76.9 L457.9,76.9 L457.9,77.8 L458.2,77.8 L458.2,78.7 L458.4,78.7 L458.4,79.5 L458.7,79.5 L458.7,80.4 L491.3,80.4" fill="none" stroke="#E09D38" stroke-width="1.4" stroke-linejoin="round" stroke-linecap="butt"/>
<path d="M319.00,48.30 C320.45,48.98 325.48,51.15 327.70,52.40 C329.92,53.65 330.57,54.55 332.30,55.80 C334.03,57.05 335.80,58.45 338.10,59.90 C340.40,61.35 343.22,63.07 346.10,64.50 C348.98,65.93 352.32,67.35 355.40,68.50 C358.48,69.65 361.33,70.40 364.60,71.40 C367.87,72.40 371.28,73.57 375.00,74.50 C378.72,75.43 383.32,76.27 386.90,77.00 C390.48,77.73 392.65,78.17 396.50,78.90 C400.35,79.63 406.22,80.72 410.00,81.40 C413.78,82.08 414.45,82.22 419.20,83.00 C423.95,83.78 432.08,85.22 438.50,86.10 C444.92,86.98 451.30,87.75 457.70,88.30 C464.10,88.85 471.30,89.15 476.90,89.40 C482.50,89.65 488.90,89.73 491.30,89.80" fill="none" stroke="#931332" stroke-width="1.5" stroke-linejoin="round" stroke-linecap="butt"/>
<path d="M61.3,405.8 L67.7,405.8 L67.7,405.2 L69.2,405.2 L69.2,404.2 L70.8,404.2 L70.8,403.3 L72.3,403.3 L72.3,402.3 L74.2,402.3 L74.2,401.3 L76.2,401.3 L76.2,400.4 L78.1,400.4 L78.1,399.4 L81.5,399.4 L81.5,398.2 L85.0,398.2 L85.0,397.1 L91.9,397.1 L91.9,396.0 L93.7,396.0 L93.7,394.8 L95.4,394.8 L95.4,393.6 L96.9,393.6 L96.9,392.7 L98.5,392.7 L98.5,391.7 L100.0,391.7 L100.0,390.8 L104.6,390.8 L104.6,389.6 L106.9,389.6 L106.9,388.8 L109.2,388.8 L109.2,387.9 L113.1,387.9 L113.1,386.5 L162.2,386.5 L162.2,385.0 L179.1,385.0 L179.1,382.8 L234.1,382.8" fill="none" stroke="#E09D38" stroke-width="1.4" stroke-linejoin="round" stroke-linecap="butt"/>
<path d="M61.30,405.80 C62.08,405.60 64.65,405.67 66.00,404.60 C67.35,403.53 68.25,401.52 69.40,399.40 C70.55,397.28 71.65,394.03 72.90,391.90 C74.15,389.77 75.27,388.17 76.90,386.60 C78.53,385.03 80.58,383.82 82.70,382.50 C84.82,381.18 86.92,380.02 89.60,378.70 C92.28,377.38 95.72,375.88 98.80,374.60 C101.88,373.32 105.33,372.07 108.10,371.00 C110.87,369.93 111.62,369.22 115.40,368.20 C119.18,367.18 126.18,365.88 130.80,364.90 C135.42,363.92 137.98,363.15 143.10,362.30 C148.22,361.45 154.97,360.62 161.50,359.80 C168.03,358.98 175.32,358.10 182.30,357.40 C189.28,356.70 197.07,356.08 203.40,355.60 C209.73,355.12 215.18,354.78 220.30,354.50 C225.42,354.22 231.80,354.00 234.10,353.90" fill="none" stroke="#931332" stroke-width="1.5" stroke-linejoin="round" stroke-linecap="butt"/>
<path d="M318.7,405.6 L323.5,403.1 L333.1,401.7 L348.5,400.4 L360.0,398.8 L377.3,398.8 L410.0,398.5 L447.1,398.5 L447.1,396.0 L457.7,396.0 L457.7,394.0 L492.3,394.0" fill="none" stroke="#E09D38" stroke-width="1.5" stroke-linejoin="round" stroke-linecap="butt"/>
<path d="M318.70,405.60 C319.50,405.18 321.10,403.75 323.50,403.10 C325.90,402.45 328.93,402.15 333.10,401.70 C337.27,401.25 344.02,400.88 348.50,400.40 C352.98,399.92 355.20,399.07 360.00,398.80 C364.80,398.53 368.97,398.85 377.30,398.80 C385.63,398.75 398.22,398.58 410.00,398.50 C421.78,398.42 434.28,398.33 448.00,398.30 C461.72,398.27 484.92,398.30 492.30,398.30" fill="none" stroke="#931332" stroke-width="1.6" stroke-linejoin="round" stroke-linecap="butt"/>
<g opacity="0.4">
<path d="M318.7,405.6 L323.5,403.1 L333.1,401.7 L348.5,400.4 L360.0,398.8 L377.3,398.8 L410.0,398.5 L447.1,398.5 L447.1,396.0" fill="none" stroke="#E09D38" stroke-width="1.4" stroke-linejoin="round" stroke-linecap="butt"/>
</g>
<text x="176.2" y="70.2" font-size="8.9" fill="#E09D38" text-anchor="start" font-weight="normal" font-style="normal" textLength="38.8" lengthAdjust="spacingAndGlyphs" stroke="#E09D38" stroke-width="0.12">THRLBCL</text>
<text x="190.9" y="121.1" font-size="8.9" fill="#A01C42" text-anchor="start" font-weight="normal" font-style="normal" textLength="27.6" lengthAdjust="spacingAndGlyphs" stroke="#A01C42" stroke-width="0.12">DLBCL</text>
<text x="436.9" y="67.3" font-size="8.9" fill="#E09D38" text-anchor="start" font-weight="normal" font-style="normal" textLength="38.5" lengthAdjust="spacingAndGlyphs" stroke="#E09D38" stroke-width="0.12">THRLBCL</text>
<text x="440.8" y="101.9" font-size="8.9" fill="#A01C42" text-anchor="start" font-weight="normal" font-style="normal" textLength="27.5" lengthAdjust="spacingAndGlyphs" stroke="#A01C42" stroke-width="0.12">DLBCL</text>
<text x="189" y="349" font-size="8.9" fill="#A01C42" text-anchor="start" font-weight="normal" font-style="normal" textLength="28.2" lengthAdjust="spacingAndGlyphs" stroke="#A01C42" stroke-width="0.12">DLBCL</text>
<text x="189.7" y="395.9" font-size="8.9" fill="#E09D38" text-anchor="start" font-weight="normal" font-style="normal" textLength="38.7" lengthAdjust="spacingAndGlyphs" stroke="#E09D38" stroke-width="0.12">THRLBCL</text>
<text x="361.5" y="386.3" font-size="8.9" fill="#E09D38" text-anchor="start" font-weight="normal" font-style="normal" textLength="38.9" lengthAdjust="spacingAndGlyphs" stroke="#E09D38" stroke-width="0.12">THRLBCL</text>
<text x="454.8" y="386.3" font-size="8.9" fill="#A01C42" text-anchor="start" font-weight="normal" font-style="normal" textLength="27.9" lengthAdjust="spacingAndGlyphs" stroke="#A01C42" stroke-width="0.12">DLBCL</text>
<text x="122.6" y="151.5" font-size="9.0" fill="#2a2a2a" stroke="#2a2a2a" stroke-width="0.15" textLength="58.9" lengthAdjust="spacingAndGlyphs"><tspan font-style="italic">P-value</tspan> = &lt;.001</text>
<text x="386.6" y="151.5" font-size="9.0" fill="#2a2a2a" stroke="#2a2a2a" stroke-width="0.15" textLength="49.9" lengthAdjust="spacingAndGlyphs"><tspan font-style="italic">P-value</tspan> = .02</text>
<text x="84.6" y="334.5" font-size="9.0" fill="#2a2a2a" stroke="#2a2a2a" stroke-width="0.15" textLength="57.7" lengthAdjust="spacingAndGlyphs"><tspan font-style="italic">P-value</tspan> = &lt;.001</text>
<text x="331" y="345.8" font-size="9.0" fill="#2a2a2a" stroke="#2a2a2a" stroke-width="0.15" textLength="44.2" lengthAdjust="spacingAndGlyphs"><tspan font-style="italic">P-value</tspan> = .6</text>
<text x="9.7" y="491.6" font-size="8.4" fill="#222" text-anchor="start" font-weight="normal" font-style="normal" textLength="499.9" lengthAdjust="spacingAndGlyphs">Abbreviations: THRLBCL: T-cell/histiocyte-rich large cell B-cell lymphoma, DLBCL: Diffuse large B-cell lymphoma, HCT: Hematopoietic</text>
<text x="9.7" y="501.7" font-size="8.4" fill="#222" text-anchor="start" font-weight="normal" font-style="normal" textLength="481.9" lengthAdjust="spacingAndGlyphs">Stem cell Transplantation, PFS: Progression free survival, OS: Overall survival, NRM: Non-Relapse mortality, RI: Relapse incidence</text>
<rect x="0.5" y="0.5" width="519" height="510" fill="none" stroke="#4d4d4d" stroke-width="1"/>
</svg></body></html>
